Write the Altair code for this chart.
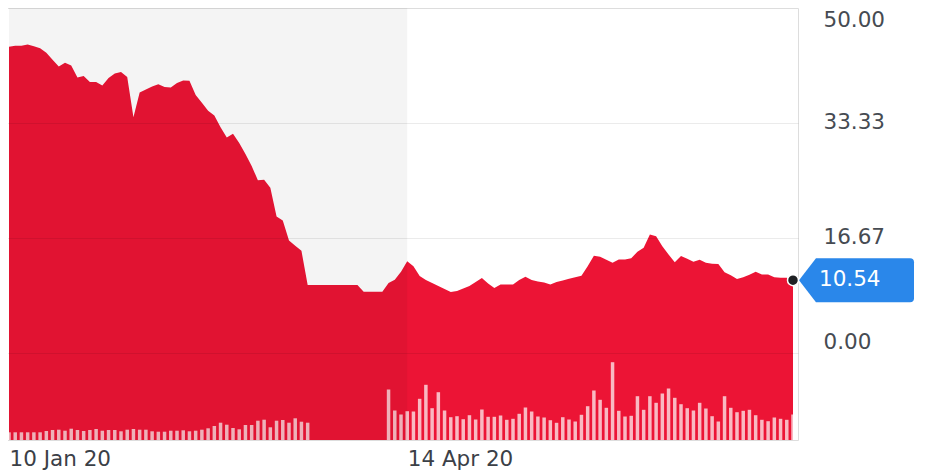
import altair as alt
import pandas as pd

# ---- data ----
price = [
    44.39, 44.53, 44.53, 44.72, 44.46, 44.17, 43.52, 42.51, 41.51, 42.08,
    41.65, 39.92, 40.14, 39.27, 39.27, 38.77, 39.85, 40.50, 40.71, 40.00,
    34.16, 37.76, 38.20, 38.63, 38.96, 38.55, 38.48, 39.13, 39.49, 39.45,
    37.40, 36.25, 35.10, 34.41, 32.72, 31.21, 31.76, 30.42, 28.84, 27.11,
    25.02, 25.09, 23.94, 19.77, 19.19, 16.31, 15.52, 14.80, 9.83, 9.83,
    9.83, 9.83, 9.83, 9.83, 9.83, 9.83, 9.83, 8.87, 8.87, 8.87,
    8.87, 10.12, 10.62, 11.78, 13.29, 12.57, 11.13, 10.55, 10.12, 9.69,
    9.26, 8.83, 8.97, 9.33, 9.69, 10.26, 10.84, 10.05, 9.40, 9.93,
    9.93, 9.93, 10.55, 11.03, 10.55, 10.34, 10.19, 9.93, 10.26, 10.48,
    10.74, 10.98, 11.20, 12.57, 14.08, 13.94, 13.50, 13.07, 13.53, 13.53,
    13.72, 14.66, 15.23, 17.18, 16.90, 15.45, 14.25, 13.14, 14.04, 13.65,
    13.22, 13.50, 13.07, 12.93, 12.90, 11.70, 11.27, 10.70, 10.98, 11.34,
    11.78, 11.37, 11.37, 10.98, 10.91, 10.91, 10.54,
]

# volume in millions; None = no trading reported
volume = [
    0.77, 0.77, 0.77, 0.77, 0.77, 0.77, 0.90, 1.00, 1.03, 0.93,
    1.13, 1.00, 0.90, 1.00, 1.10, 0.93, 1.00, 1.00, 0.87, 1.03,
    1.10, 1.03, 1.03, 0.87, 0.83, 0.83, 0.93, 0.93, 0.97, 0.87,
    0.93, 1.03, 1.17, 1.40, 1.73, 1.53, 1.20, 1.07, 1.50, 1.50,
    1.93, 2.03, 1.27, 1.93, 2.00, 1.73, 2.17, 1.83, 1.73, None,
    None, None, None, None, None, None, None, None, None, None,
    None, 5.05, 2.95, 2.55, 2.88, 2.85, 4.12, 5.52, 3.18, 4.78,
    2.95, 2.28, 2.38, 2.08, 2.48, 2.05, 3.05, 2.32, 2.32, 2.45,
    2.02, 2.12, 2.62, 3.25, 2.85, 2.35, 2.25, 1.98, 1.72, 2.28,
    2.05, 1.85, 2.52, 3.38, 4.95, 4.02, 3.22, 7.78, 2.92, 2.35,
    2.42, 4.38, 3.02, 4.38, 3.72, 4.65, 5.15, 4.22, 3.58, 3.18,
    2.95, 3.72, 3.15, 2.38, 1.85, 4.38, 3.22, 2.78, 2.92, 3.02,
    2.48, 2.02, 1.88, 2.25, 2.12, 2.02, 2.55,
]

x_tick_index = [0, 64]
x_tick_labels = ["10 Jan 20", "14 Apr 20"]
y_ticks = [0, 16.67, 33.33, 50]
shade_range = [0, 64]
Y_MIN, Y_MAX = -12.63, 50
VOL_MAX = 43.2

N = len(price)
df = pd.DataFrame({"i": list(range(N)), "price": price, "volume": volume})
shade = pd.DataFrame({"start": [shade_range[0]], "end": [shade_range[1]]})

FONT = "DejaVu Sans"
RED = "#ec1435"
BLUE = "#2a87ea"

xs = alt.Scale(domain=[0, N - 1], nice=False, zero=False)
ys = alt.Scale(domain=[Y_MIN, Y_MAX], nice=False, zero=False)

label_expr = " : ".join(
    f"datum.value == {v} ? '{t}'" for v, t in zip(x_tick_index, x_tick_labels)
) + " : ''"

x_axis = alt.Axis(
    values=x_tick_index, labelExpr=label_expr, labelAlign="left",
    labelBaseline="top", labelPadding=8, labelFontSize=21.5, labelFont=FONT,
    labelColor="#3b4047", ticks=False, domain=False, grid=False, title=None,
    labelFlush=False, labelOverlap=False,
)
y_axis = alt.Axis(
    orient="right", values=y_ticks, format=".2f", grid=True, gridColor="#000000",
    gridOpacity={"condition": {"test": "datum.value >= 49", "value": 0}, "value": 0.08},
    ticks=False, domain=False, labelPadding=25,
    labelFontSize=21.5, labelFont=FONT, labelColor="#464b52",
    labelBaseline="middle", title=None, zindex=1, labelFlush=False,
    labelOverlap=False,
    labelOffset={
        "condition": [
            {"test": "datum.value >= 49", "value": 12},
            {"test": "datum.value <= 0.01", "value": -10},
        ],
        "value": 0,
    },
)

X = alt.X("i:Q", scale=xs, axis=x_axis)

area = alt.Chart(df).mark_area(color=RED, opacity=1).encode(
    x=X,
    y=alt.Y("price:Q", scale=ys, axis=y_axis),
    y2=alt.Y2(datum=Y_MIN),
)

vol = alt.Chart(df).transform_filter("isValid(datum.volume)").mark_bar(
    size=3.5, color="white", opacity=0.7
).encode(
    x=X,
    y=alt.Y("volume:Q", scale=alt.Scale(domain=[0, VOL_MAX], nice=False), axis=None),
)

overlay = alt.Chart(shade).mark_rect(color="black", opacity=0.045).encode(
    x=alt.X("start:Q", scale=xs, axis=x_axis),
    x2="end:Q",
    y=alt.Y(datum=Y_MAX, scale=ys, axis=None),
    y2=alt.Y2(datum=Y_MIN),
)

last = alt.Chart(df).transform_filter(f"datum.i == {N - 1}")

TAG_PATH = ("M 0.1 0 L 0.383 -0.367 L 1.95 -0.367 Q 2.017 -0.367 2.017 -0.3 "
            "L 2.017 0.3 Q 2.017 0.367 1.95 0.367 L 0.383 0.367 Z")

tag = last.mark_point(shape=TAG_PATH, filled=True, color=BLUE, size=14400, opacity=1).encode(
    x=X,
    y=alt.Y("price:Q", scale=ys, axis=None),
)

dot = last.mark_circle(color="#1f2124", size=120, opacity=1, stroke="white", strokeWidth=1.5).encode(
    x=X,
    y=alt.Y("price:Q", scale=ys, axis=None),
)

txt = last.mark_text(
    align="left", baseline="middle", dx=26, color="white", font=FONT, fontSize=21.5
).encode(
    x=X,
    y=alt.Y("price:Q", scale=ys, axis=None),
    text=alt.Text("price:Q", format=".2f"),
)

chart = alt.layer(area, vol, overlay, tag, dot, txt).resolve_scale(
    y="independent"
).properties(
    width=794, height=432,
    padding={"left": -4, "top": 0, "right": 0, "bottom": 0},
).configure_view(
    stroke="#dadde3", strokeWidth=1.5
).configure(background="white")

chart.save("out.html", embed_options={"renderer": "svg", "actions": False})
